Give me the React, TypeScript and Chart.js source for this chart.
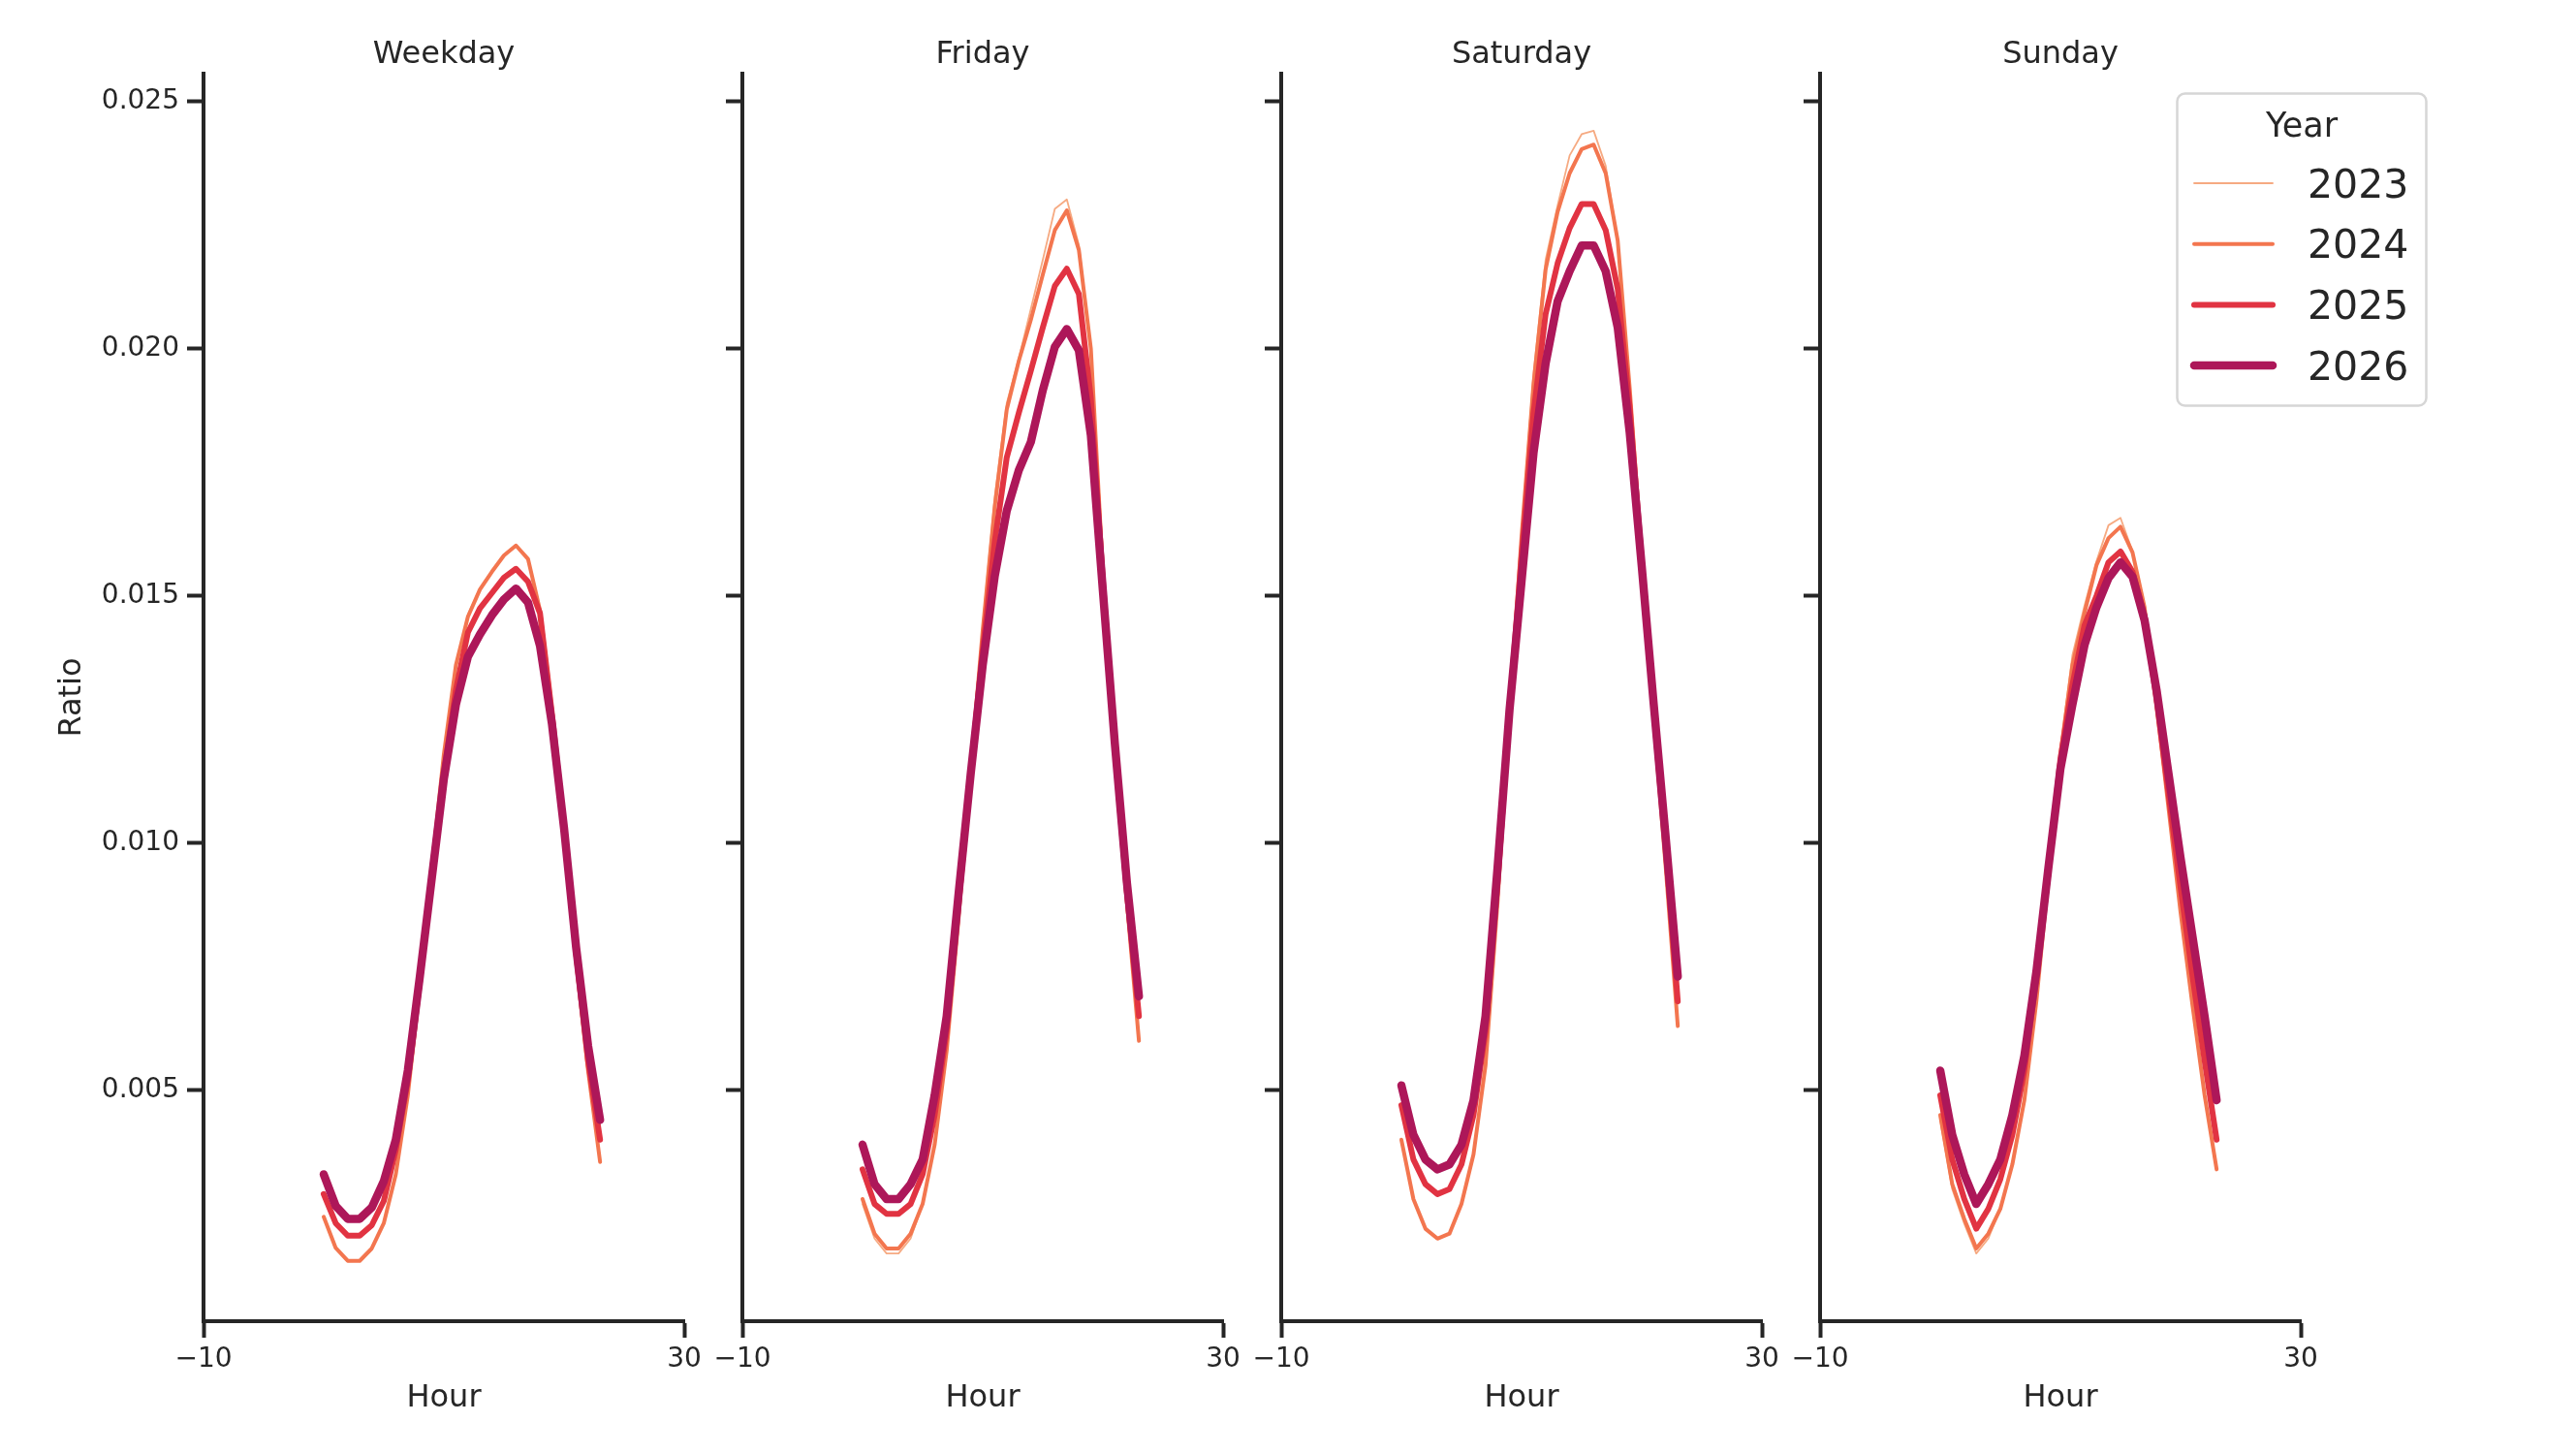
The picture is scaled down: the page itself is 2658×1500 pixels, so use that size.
import { useEffect, useRef } from "react";
import { Chart, ChartConfiguration, Plugin, registerables } from "chart.js";

Chart.register(...registerables);

const FONT = "'DejaVu Sans', 'Liberation Sans', sans-serif";
const INK = "#262626";

const hours = [0, 1, 2, 3, 4, 5, 6, 7, 8, 9, 10, 11, 12, 13, 14, 15, 16, 17, 18, 19, 20, 21, 22, 23];
const years = ["2023", "2024", "2025", "2026"];
const yTicks = [0.005, 0.01, 0.015, 0.02, 0.025];
const xTicks = [-10, 30];

// Weekday
const weekday2023 = [0.00243, 0.0018, 0.00154, 0.00155, 0.0018, 0.0023, 0.0033, 0.0049, 0.0071, 0.0095, 0.0118, 0.0136, 0.01462, 0.01515, 0.0155, 0.01583, 0.01603, 0.01576, 0.01472, 0.0127, 0.0102, 0.0076, 0.0054, 0.00355];
const weekday2024 = [0.00244, 0.00181, 0.00155, 0.00155, 0.0018, 0.00231, 0.0033, 0.0049, 0.0071, 0.0095, 0.0118, 0.0136, 0.01458, 0.01513, 0.01549, 0.01582, 0.01602, 0.01575, 0.01471, 0.0127, 0.0102, 0.0076, 0.0054, 0.00355];
const weekday2025 = [0.0029, 0.00231, 0.00206, 0.00206, 0.00227, 0.00276, 0.0038, 0.0052, 0.0072, 0.0094, 0.0114, 0.0131, 0.01426, 0.01475, 0.01506, 0.01537, 0.01555, 0.01529, 0.01465, 0.0126, 0.0103, 0.0078, 0.0056, 0.004];
const weekday2026 = [0.0033, 0.00266, 0.0024, 0.0024, 0.00263, 0.00316, 0.004, 0.0054, 0.0073, 0.0093, 0.0113, 0.0128, 0.01377, 0.01422, 0.01461, 0.01493, 0.01515, 0.01487, 0.01399, 0.0124, 0.0103, 0.0079, 0.0059, 0.0044];

// Friday
const friday2023 = [0.0027, 0.002, 0.0017, 0.0017, 0.002, 0.0027, 0.0039, 0.0058, 0.0086, 0.0116, 0.0144, 0.017, 0.0189, 0.0198, 0.0208, 0.0218, 0.02283, 0.02302, 0.0221, 0.02, 0.0155, 0.0118, 0.0088, 0.0061];
const friday2024 = [0.0028, 0.0021, 0.0018, 0.0018, 0.0021, 0.0027, 0.0039, 0.0058, 0.0085, 0.0115, 0.0143, 0.0168, 0.01877, 0.01975, 0.02058, 0.0215, 0.0224, 0.0228, 0.022, 0.02, 0.0155, 0.0118, 0.0088, 0.006];
const friday2025 = [0.0034, 0.0027, 0.0025, 0.0025, 0.0027, 0.0033, 0.0045, 0.0062, 0.0088, 0.0114, 0.0139, 0.0161, 0.0178, 0.0187, 0.01955, 0.02043, 0.02127, 0.02162, 0.02111, 0.019, 0.0153, 0.0119, 0.009, 0.0065];
const friday2026 = [0.0039, 0.0031, 0.0028, 0.0028, 0.0031, 0.0036, 0.0049, 0.0065, 0.009, 0.0114, 0.0136, 0.0154, 0.01672, 0.01754, 0.01811, 0.01916, 0.02004, 0.0204, 0.01997, 0.01825, 0.0151, 0.012, 0.0092, 0.0069];

// Saturday
const saturday2023 = [0.004, 0.0028, 0.0022, 0.002, 0.0021, 0.0027, 0.0037, 0.0055, 0.0088, 0.0127, 0.0163, 0.0195, 0.0218, 0.0229, 0.02391, 0.02434, 0.02441, 0.0237, 0.0222, 0.0192, 0.0158, 0.0125, 0.0095, 0.0063];
const saturday2024 = [0.004, 0.0028, 0.0022, 0.002, 0.0021, 0.0027, 0.0037, 0.0055, 0.0088, 0.0126, 0.0162, 0.0193, 0.0216, 0.02277, 0.02355, 0.02404, 0.02413, 0.02355, 0.02219, 0.0192, 0.0158, 0.0125, 0.0095, 0.0063];
const saturday2025 = [0.0047, 0.0036, 0.0031, 0.0029, 0.003, 0.0035, 0.0045, 0.0062, 0.0092, 0.0127, 0.0158, 0.0187, 0.0207, 0.02173, 0.02244, 0.02293, 0.02293, 0.0224, 0.02121, 0.0188, 0.0157, 0.0127, 0.0099, 0.0068];
const saturday2026 = [0.0051, 0.0041, 0.0036, 0.0034, 0.0035, 0.0039, 0.0048, 0.0065, 0.0095, 0.0127, 0.0153, 0.0179, 0.0197, 0.02096, 0.02157, 0.02209, 0.02209, 0.02157, 0.02043, 0.0183, 0.0156, 0.0128, 0.0101, 0.0073];

// Sunday
const sunday2023 = [0.0044, 0.003, 0.0023, 0.0017, 0.002, 0.0026, 0.0035, 0.0048, 0.0068, 0.0093, 0.0119, 0.0138, 0.0148, 0.0157, 0.01643, 0.01658, 0.0159, 0.0148, 0.0128, 0.0107, 0.0086, 0.0067, 0.0049, 0.0034];
const sunday2024 = [0.0045, 0.0031, 0.0024, 0.0018, 0.0021, 0.0026, 0.0035, 0.0048, 0.0068, 0.0093, 0.0118, 0.0136, 0.01465, 0.01562, 0.01617, 0.0164, 0.01588, 0.01477, 0.0128, 0.0107, 0.0086, 0.0067, 0.0049, 0.0034];
const sunday2025 = [0.0049, 0.0036, 0.0028, 0.0022, 0.0026, 0.0032, 0.0041, 0.0054, 0.0073, 0.0094, 0.0117, 0.0132, 0.0144, 0.015, 0.01568, 0.0159, 0.01549, 0.0146, 0.0129, 0.011, 0.0091, 0.0073, 0.0056, 0.004];
const sunday2026 = [0.0054, 0.0041, 0.0033, 0.0027, 0.0031, 0.0036, 0.0045, 0.0057, 0.0074, 0.0095, 0.0115, 0.0128, 0.014, 0.01477, 0.01536, 0.01568, 0.01539, 0.01451, 0.0131, 0.0114, 0.0097, 0.0081, 0.0065, 0.0048];

const panels = [
  { title: "Weekday", series: [weekday2023, weekday2024, weekday2025, weekday2026] },
  { title: "Friday", series: [friday2023, friday2024, friday2025, friday2026] },
  { title: "Saturday", series: [saturday2023, saturday2024, saturday2025, saturday2026] },
  { title: "Sunday", series: [sunday2023, sunday2024, sunday2025, sunday2026] },
];

const COLORS = ["#f6aa82", "#f3764f", "#e13342", "#ad1759"];
const WIDTHS = [1.8, 4, 6, 8.5];

// layout (page pixels)
const PANEL_STEP = 556;
const Y_BOX = 210;
const PLOT_W = 496;
const CANVAS_H = 1500;
const X_BOX = 137;
const Y_MIN = 0.000329;
const Y_MAX = 0.025565;

const legendPlugin = (offsetX: number): Plugin => ({
  id: "yearLegend",
  afterDraw(chart) {
    const ctx = chart.ctx;
    ctx.save();
    ctx.beginPath();
    ctx.roundRect(2246.5 - offsetX, 96.5, 257, 322, 8);
    ctx.fillStyle = "rgba(255,255,255,0.85)";
    ctx.fill();
    ctx.lineWidth = 2.5;
    ctx.strokeStyle = "#d6d6d6";
    ctx.stroke();

    ctx.fillStyle = INK;
    ctx.textBaseline = "alphabetic";
    ctx.textAlign = "center";
    ctx.font = `35px ${FONT}`;
    ctx.fillText("Year", 2375 - offsetX, 141);

    ctx.textAlign = "left";
    ctx.font = `41px ${FONT}`;
    years.forEach((year, i) => {
      const y = 189 + i * 62.7;
      ctx.beginPath();
      ctx.moveTo(2264 - offsetX, y);
      ctx.lineTo(2345 - offsetX, y);
      ctx.lineCap = "round";
      ctx.lineWidth = WIDTHS[i];
      ctx.strokeStyle = COLORS[i];
      ctx.stroke();
      ctx.fillText(year, 2381 - offsetX, y + 14.5);
    });
    ctx.restore();
  },
});

function Panel({ index }: { index: number }) {
  const canvasRef = useRef<HTMLCanvasElement>(null);
  const panel = panels[index];
  const left = index * PANEL_STEP;
  const rightPad = index === 3 ? 160 : 60;
  const width = Y_BOX + PLOT_W + rightPad;

  useEffect(() => {
    if (!canvasRef.current) return;
    const ctx = canvasRef.current.getContext("2d");
    if (!ctx) return;

    const config: ChartConfiguration<"line"> = {
      type: "line",
      data: {
        datasets: panel.series.map((values, i) => ({
          label: years[i],
          data: hours.map((h, k) => ({ x: h, y: values[k] })),
          borderColor: COLORS[i],
          backgroundColor: COLORS[i],
          borderWidth: WIDTHS[i],
          borderJoinStyle: "round",
          borderCapStyle: "round",
          pointRadius: 0,
          tension: 0,
          order: 3 - i,
        })),
      },
      options: {
        responsive: false,
        animation: false,
        devicePixelRatio: 1,
        layout: { padding: { left: 0, right: rightPad, top: 0, bottom: 0 } },
        plugins: {
          legend: { display: false },
          tooltip: { enabled: false },
          title: {
            display: true,
            text: panel.title,
            color: INK,
            fullSize: false,
            font: { family: FONT, size: 32, weight: "normal" },
            padding: { top: 37, bottom: 0.6 },
          },
        },
        scales: {
          x: {
            type: "linear",
            min: -10,
            max: 30,
            afterBuildTicks: (axis) => {
              axis.ticks = xTicks.map((v) => ({ value: v }));
            },
            afterFit: (axis) => {
              axis.height = X_BOX;
            },
            grid: {
              display: true,
              drawOnChartArea: false,
              drawTicks: true,
              tickLength: 17,
              tickWidth: 4,
              tickColor: INK,
            },
            border: { display: true, color: INK, width: 4 },
            ticks: {
              color: INK,
              padding: 6,
              maxRotation: 0,
              font: { family: FONT, size: 28 },
              callback: (v) => (Number(v) < 0 ? "\u2212" + Math.abs(Number(v)) : String(v)),
            },
            title: {
              display: true,
              text: "Hour",
              color: INK,
              font: { family: FONT, size: 32 },
              padding: { top: 0, bottom: 38.5 },
            },
          },
          y: {
            type: "linear",
            min: Y_MIN,
            max: Y_MAX,
            afterBuildTicks: (axis) => {
              axis.ticks = yTicks.map((v) => ({ value: v }));
            },
            afterFit: (axis) => {
              axis.width = Y_BOX;
            },
            grid: {
              display: true,
              drawOnChartArea: false,
              drawTicks: true,
              tickLength: 17,
              tickWidth: 4,
              tickColor: INK,
            },
            border: { display: true, color: INK, width: 4 },
            ticks: {
              display: index === 0,
              color: INK,
              padding: 8,
              font: { family: FONT, size: 28 },
              callback: (v) => Number(v).toFixed(3),
            },
            title: {
              display: index === 0,
              text: "Ratio",
              color: INK,
              font: { family: FONT, size: 32 },
              padding: { top: 55.5, bottom: 0 },
            },
          },
        },
      },
      plugins: index === 3 ? [legendPlugin(left)] : [],
    };

    const chart = new Chart(ctx, config);
    return () => {
      chart.destroy();
    };
  }, [index]);

  return (
    <canvas
      ref={canvasRef}
      width={width}
      height={CANVAS_H}
      style={{ position: "absolute", left, top: 0, width, height: CANVAS_H }}
    />
  );
}

export default function App() {
  return (
    <div
      style={{
        position: "absolute",
        left: 0,
        top: 0,
        width: 2658,
        height: CANVAS_H,
        background: "#ffffff",
        overflow: "hidden",
      }}
    >
      {panels.map((p, i) => (
        <Panel key={p.title} index={i} />
      ))}
    </div>
  );
}
